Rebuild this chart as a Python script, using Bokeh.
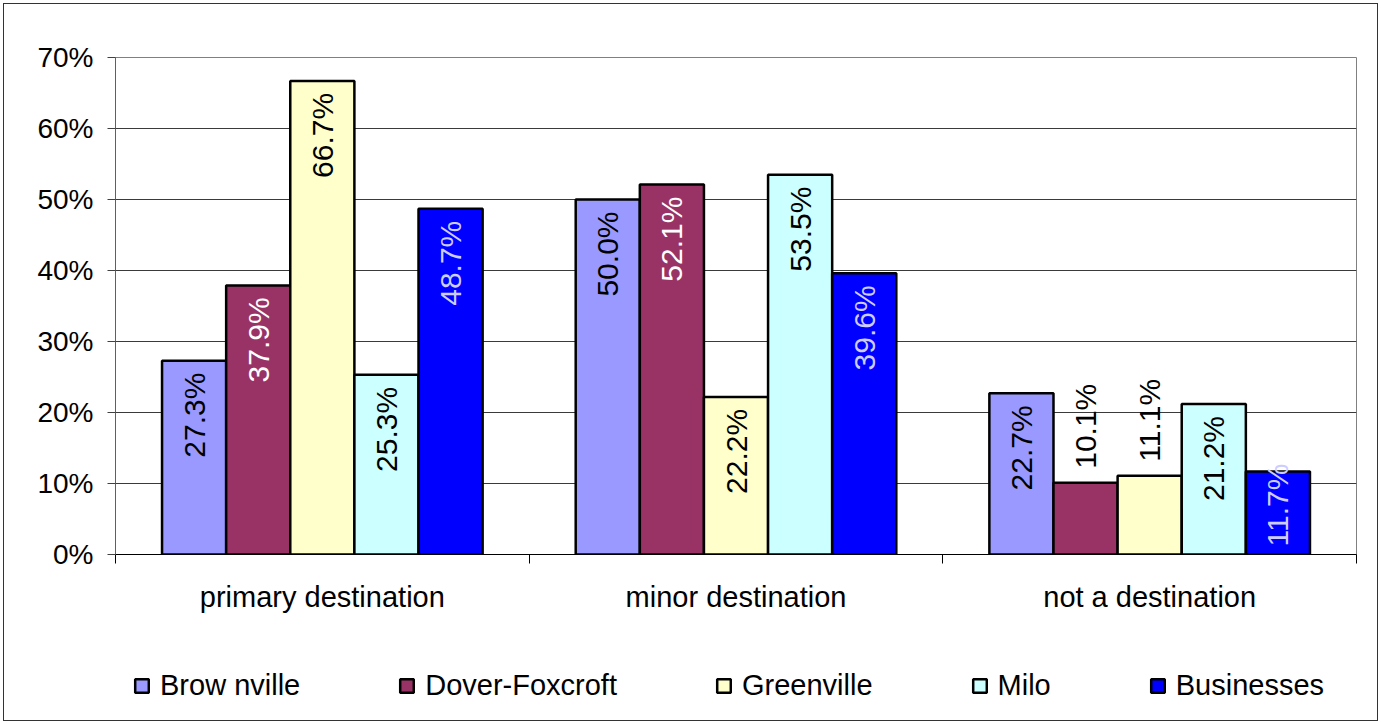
import numpy as np
from bokeh.plotting import figure
from bokeh.layouts import column
from bokeh.models import (ColumnDataSource, Range1d, FixedTicker, PrintfTickFormatter,
                          Legend, LegendItem, InlineStyleSheet)
from bokeh.core.properties import value
from bokeh.embed import file_html
from bokeh.resources import INLINE

# survey results, percent of respondents
categories = ["primary destination", "minor destination", "not a destination"]
series_names = ["Brow nville", "Dover-Foxcroft", "Greenville", "Milo", "Businesses"]
brownville = [27.3, 50.0, 22.7]
dover_foxcroft = [37.9, 52.1, 10.1]
greenville = [66.7, 22.2, 11.1]
milo = [25.3, 53.5, 21.2]
businesses = [48.7, 39.6, 11.7]
y_ticks = [0, 10, 20, 30, 40, 50, 60, 70]

series_values = [brownville, dover_foxcroft, greenville, milo, businesses]
fill_colors = ["#9999FF", "#993366", "#FFFFCC", "#CCFFFF", "#0000FF"]
label_colors = ["#000000", "#FFFFFF", "#000000", "#000000", "#CCCCFF"]

FONT = "Liberation Sans"
BAR_W = 0.155

p = figure(frame_width=1241, frame_height=497, output_backend="svg", toolbar_location=None,
           x_range=Range1d(0, len(categories)), y_range=Range1d(0, 70),
           min_border_left=115, min_border_right=25, min_border_top=57,
           min_border_bottom=70)

p.background_fill_color = "white"
p.border_fill_color = "white"
p.outline_line_color = "#808080"
p.outline_line_width = 1

# category axis: names centred, tick marks on the boundaries
centers = [i + 0.5 for i in range(len(categories))]
p.xaxis.ticker = FixedTicker(ticks=centers, minor_ticks=list(range(len(categories) + 1)))
p.xaxis.major_label_overrides = {c: name for c, name in zip(centers, categories)}
p.xaxis.major_tick_line_color = None
p.xaxis.minor_tick_line_color = "black"
p.xaxis.minor_tick_out = 9
p.xaxis.minor_tick_in = 0
p.xaxis.axis_line_color = "black"
p.xaxis.axis_line_width = 1
p.xaxis.major_label_text_font = FONT
p.xaxis.major_label_text_font_size = "29px"
p.xaxis.major_label_text_color = "black"
p.xaxis.major_label_standoff = 17
p.xgrid.visible = False

p.yaxis.ticker = FixedTicker(ticks=y_ticks, minor_ticks=[])
p.yaxis.formatter = PrintfTickFormatter(format="%d%%")
p.yaxis.major_tick_out = 8
p.yaxis.major_tick_in = 0
p.yaxis.major_tick_line_color = "#404040"
p.yaxis.axis_line_color = "#606060"
p.yaxis.major_label_text_font = FONT
p.yaxis.major_label_text_font_size = "28px"
p.yaxis.major_label_text_color = "black"
p.yaxis.major_label_standoff = 14
p.ygrid.ticker = FixedTicker(ticks=y_ticks)
p.ygrid.grid_line_color = "#3a3a3a"
p.ygrid.grid_line_width = 1

# key drawn in its own strip under the chart
key = figure(frame_width=1381, frame_height=100, output_backend="svg", toolbar_location=None,
             x_range=Range1d(0, 1), y_range=Range1d(0, 1),
             x_axis_type=None, y_axis_type=None,
             min_border=0, min_border_left=0, min_border_right=0,
             min_border_top=0, min_border_bottom=0)
key.outline_line_color = None
key.background_fill_color = "white"
key.border_fill_color = "white"

items = []
n = len(series_values)
for i, (name, vals, fc, lc) in enumerate(zip(series_names, series_values, fill_colors, label_colors)):
    xs = [c + (i - (n - 1) / 2) * BAR_W for c in centers]
    p.vbar(x=xs, top=vals, width=BAR_W, bottom=0, fill_color=fc,
           line_color="black", line_width=2.5)
    # swatch-only renderer for the key (its single row is NaN, so nothing is plotted)
    swatch = key.vbar(x=[np.nan], top=[np.nan], width=BAR_W, bottom=0, fill_color=fc,
                      line_color="black", line_width=2.5)
    items.append(LegendItem(label=name, renderers=[swatch]))

    # value labels: inside the bar end, or above the bar (in black) when it is too short
    ly, align, yoff, tcol = [], [], [], []
    for v in vals:
        if v >= 15:
            ly.append(v); align.append("right"); yoff.append(12); tcol.append(lc)
        elif v >= 11.5:
            ly.append(v / 2); align.append("center"); yoff.append(-8); tcol.append(lc)
        else:
            ly.append(v); align.append("left"); yoff.append(-14); tcol.append("#000000")
    src = ColumnDataSource(dict(x=xs, y=ly, text=[f"{v:.1f}%" for v in vals],
                                align=align, yoff=yoff, color=tcol))
    p.text(x="x", y="y", text="text", source=src, angle=np.pi / 2,
           text_align="align", text_baseline="middle", y_offset="yoff",
           text_color="color", text_font=value(FONT), text_font_size="30px")

legend = Legend(items=items, orientation="horizontal", location=(133, 22),
                spacing=98, glyph_width=17, glyph_height=17, label_standoff=10,
                label_text_font=FONT, label_text_font_size="29px",
                label_text_color="black",
                border_line_color=None, background_fill_alpha=0, margin=0,
                padding=10)
key.add_layout(legend, "center")

frame_css = InlineStyleSheet(css="""
:host { position: relative; }
:host::after {
  content: ""; position: absolute; left: 3px; top: 3px; right: 3px; bottom: 3px;
  border: 1px solid #333333; pointer-events: none; z-index: 100;
}
""")
page = column(p, key, spacing=0, stylesheets=[frame_css])

open("out.html", "w").write(file_html(page, INLINE))
